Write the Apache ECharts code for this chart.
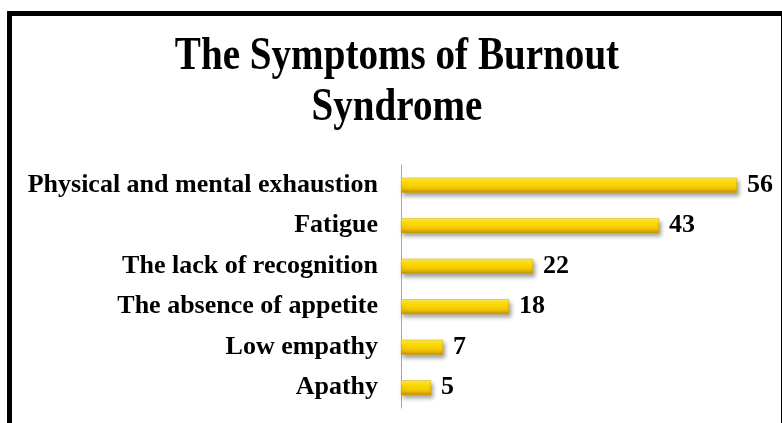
<!DOCTYPE html>
<html>
<head>
<meta charset="utf-8">
<style>
  html, body { margin: 0; padding: 0; background: #fff; }
  #main { width: 782px; height: 423px; }
</style>
<script src="https://cdn.jsdelivr.net/npm/echarts@6/dist/echarts.min.js"></script>
</head>
<body>
<div id="main"></div>
<script>
// 数据
var categories = [
  "Physical and mental exhaustion",
  "Fatigue",
  "The lack of recognition",
  "The absence of appetite",
  "Low empathy",
  "Apathy"
];
var counts = [56, 43, 22, 18, 7, 5];
var titleLines = ["The Symptoms of Burnout", "Syndrome"];

var serif = "'Liberation Serif', 'Times New Roman', serif";

var myChart = echarts.init(document.getElementById("main"));
myChart.setOption({
  animation: false,
  backgroundColor: "#fff",
  graphic: [
    {
      // 外框
      type: "rect",
      shape: { x: 9.5, y: 13.5, width: 774, height: 420 },
      style: { fill: null, stroke: "#000", lineWidth: 5 },
      silent: true
    },
    {
      type: "text",
      x: 397,
      y: 57.5,
      scaleX: 0.85,
      style: {
        text: titleLines[0],
        font: "bold 46px " + serif,
        fill: "#000",
        textAlign: "center",
        textVerticalAlign: "middle"
      }
    },
    {
      type: "text",
      x: 397,
      y: 108,
      scaleX: 0.85,
      style: {
        text: titleLines[1],
        font: "bold 46px " + serif,
        fill: "#000",
        textAlign: "center",
        textVerticalAlign: "middle"
      }
    }
  ],
  grid: {
    left: 401,
    right: 21,
    top: 165,
    bottom: 15,
    containLabel: false
  },
  xAxis: {
    type: "value",
    min: 0,
    max: 60,
    show: false
  },
  yAxis: {
    type: "category",
    inverse: true,
    data: categories,
    axisTick: { show: false },
    axisLine: {
      show: true,
      lineStyle: { color: "#a6a6a6", width: 1 }
    },
    axisLabel: {
      margin: 23,
      color: "#000",
      fontFamily: serif,
      fontWeight: "bold",
      fontSize: 26
    }
  },
  series: [
    {
      name: "count",
      type: "bar",
      barWidth: 15,
      data: counts,
      itemStyle: {
        color: new echarts.graphic.LinearGradient(0, 0, 0, 1, [
          { offset: 0, color: "#ffe85e" },
          { offset: 0.3, color: "#ffe300" },
          { offset: 0.7, color: "#f2c300" },
          { offset: 1, color: "#bf9000" }
        ]),
        borderColor: "#d4a800",
        borderWidth: 0.5,
        shadowColor: "rgba(0,0,0,0.35)",
        shadowBlur: 4,
        shadowOffsetX: 2,
        shadowOffsetY: 3
      },
      label: {
        show: true,
        position: "right",
        distance: 10,
        color: "#000",
        fontFamily: serif,
        fontWeight: "bold",
        fontSize: 26
      }
    }
  ]
});
</script>
</body>
</html>
